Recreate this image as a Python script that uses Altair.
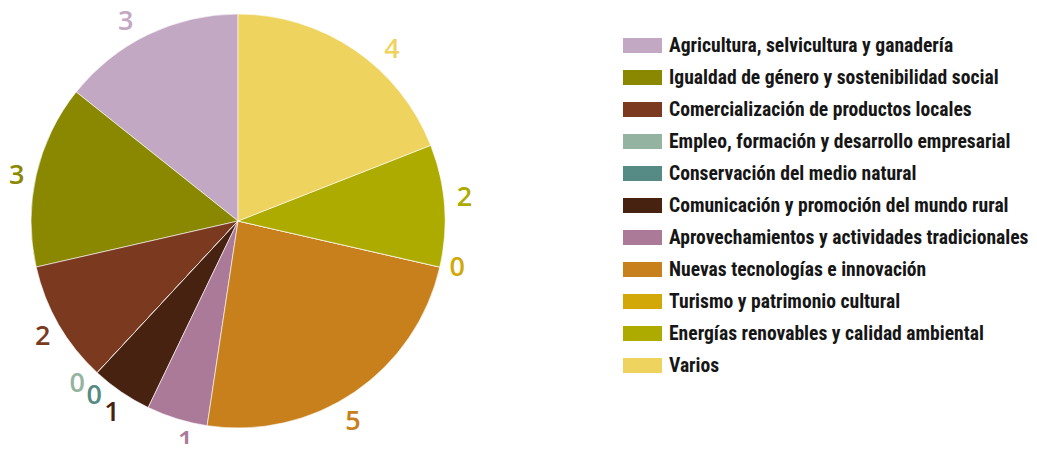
import altair as alt
import pandas as pd

categorias = [
    "Agricultura, selvicultura y ganadería",
    "Igualdad de género y sostenibilidad social",
    "Comercialización de productos locales",
    "Empleo, formación y desarrollo empresarial",
    "Conservación del medio natural",
    "Comunicación y promoción del mundo rural",
    "Aprovechamientos y actividades tradicionales",
    "Nuevas tecnologías e innovación",
    "Turismo y patrimonio cultural",
    "Energías renovables y calidad ambiental",
    "Varios",
]
valores = [3, 3, 2, 0, 0, 1, 1, 5, 0, 2, 4]
colores = [
    "#C3A8C3", "#8A8700", "#7B3A20", "#94B4A1", "#568A84", "#472210",
    "#AB7A99", "#C8801C", "#D1A808", "#ADAA00", "#EFD35F",
]

# label nudges (style only: offsets of each value label, in pixels)
ajustes = [
    (-13, 7), (2, 6), (3, 1), (-5, -5), (12, 7), (3, 3),
    (15, 2), (-14, 12), (-4, -4), (-2, -6), (25, 18),
]

n = len(categorias)
df = pd.DataFrame({
    "categoria": categorias,
    "valor": valores,
    "orden": [n - i for i in range(n)],
})

color = alt.Color(
    "categoria:N",
    scale=alt.Scale(domain=categorias, range=colores),
    legend=alt.Legend(
        title=None,
        orient="none",
        legendX=615,
        legendY=18,
        symbolType="M-1,-0.385H1V0.385H-1Z",
        symbolSize=1521,
        symbolStrokeWidth=0,
        symbolOpacity=1,
        labelFont="'Roboto Condensed', Lato",
        labelFontSize=19.6,
        labelFontWeight="bold",
        labelColor="#161616",
        labelOffset=7,
        labelLimit=420,
        rowPadding=2,
        padding=0,
    ),
)

base = alt.Chart(df).encode(
    theta=alt.Theta("valor:Q", stack=True),
    order=alt.Order("orden:Q", sort="ascending"),
    color=color,
)

pie = base.mark_arc(
    outerRadius=207, stroke="white", strokeWidth=0.6
).encode(x=alt.value(230), y=alt.value(213))

etiquetas = alt.Chart(df).transform_stack(
    stack="valor", groupby=[], as_=["ini", "fin"],
    sort=[alt.SortField("orden", order="ascending")],
).transform_calculate(mid="(datum.ini + datum.fin) / 2")

capas = [pie]
for cat, (ddx, ddy) in zip(categorias, ajustes):
    capas.append(
        etiquetas.transform_filter(alt.datum.categoria == cat).mark_text(
            radius=229, font="Open Sans", fontSize=27, fontWeight=600,
            align="center", baseline="middle", dx=ddx, dy=ddy,
        ).encode(
            theta=alt.Theta("mid:Q", stack=None),
            color=color,
            x=alt.value(230), y=alt.value(213), text="valor:Q",
        )
    )

chart = alt.layer(*capas).properties(
    width=1021,
    height=436,
    autosize=alt.AutoSizeParams(type="none"),
    padding=0,
).configure_view(stroke=None)

chart.save("out.html", embed_options={"renderer": "svg", "actions": False})
